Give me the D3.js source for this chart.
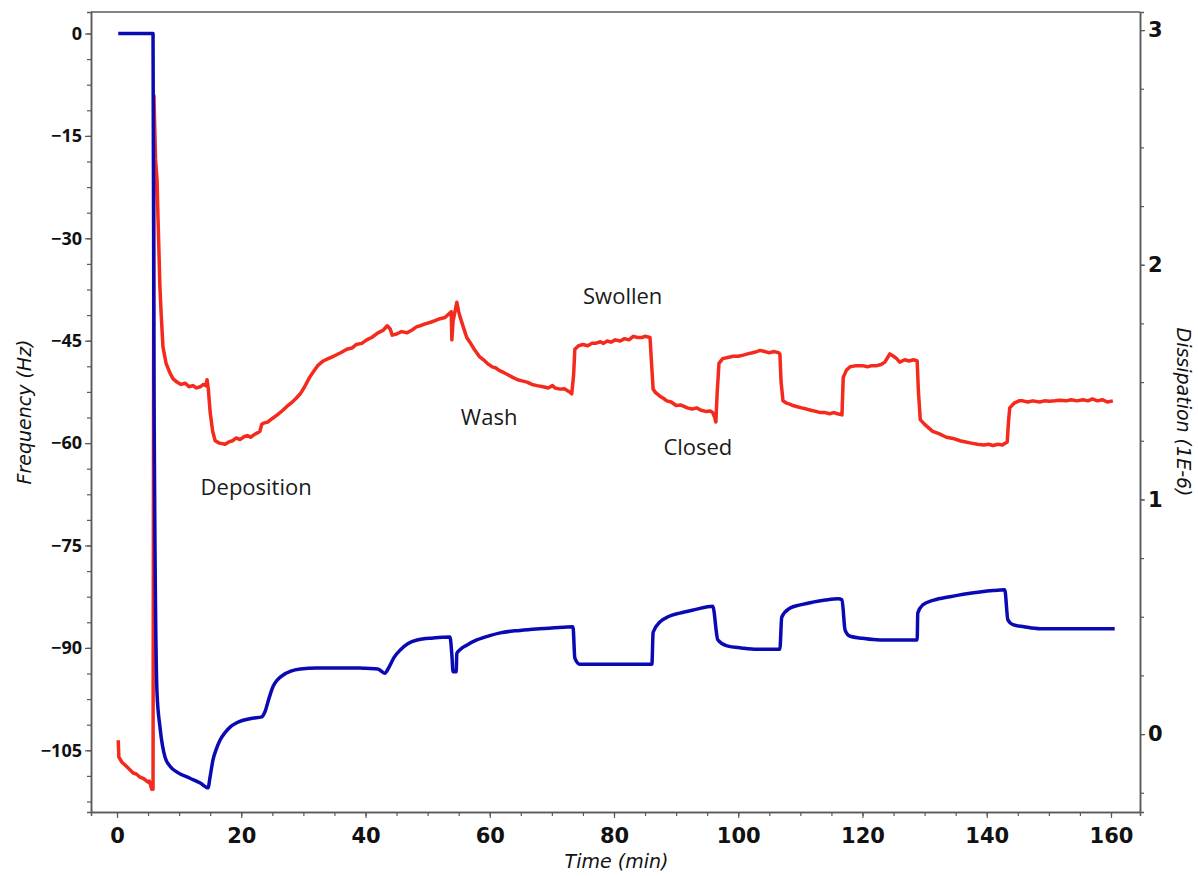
<!DOCTYPE html>
<html>
<head>
<meta charset="utf-8">
<script src="https://cdn.jsdelivr.net/npm/d3@7"></script>
<style>
  body { margin: 0; background: #fff; }
  svg { display: block; }
</style>
</head>
<body>
<svg id="chart" width="1198" height="876"></svg>
<script>
// Frequency trace (blue, left axis): time in min, frequency in Hz
const freqTime = [0.2, 5.6, 5.8, 5.95, 6.44, 6.92, 7.73, 8.6, 9.66, 11.75, 13.4, 14.65, 15.0, 15.45, 16.0, 16.6, 17.4, 18.2, 19.2, 20.3, 21.8, 23.3, 23.8, 24.4, 25.1, 25.9, 26.7, 28.0, 29.5, 32.2, 39.1, 40.0, 42.0, 43.1, 43.8, 44.6, 45.6, 46.8, 48.3, 50.9, 53.6, 53.9, 54.1, 54.6, 54.7, 55.3, 56.3, 58.0, 60.0, 61.7, 64.0, 66.5, 70.0, 73.4, 73.7, 74.5, 86.1, 86.3, 87.4, 88.8, 90.6, 93.0, 95.9, 96.7, 98.2, 100.5, 103.0, 106.7, 107.0, 108.3, 110.0, 112.0, 114.0, 116.1, 116.7, 117.2, 118.0, 120.0, 122.8, 128.8, 128.9, 129.7, 131.5, 134.1, 136.5, 138.9, 141.0, 142.9, 143.4, 144.2, 146.0, 148.6, 160.6];
const freqHz = [0, 0, 0, -50, -96.6, -101.6, -106.0, -107.4, -108.2, -109.1, -109.8, -110.5, -108.8, -106.4, -104.8, -103.5, -102.4, -101.6, -101.0, -100.6, -100.3, -100.1, -99.4, -97.6, -95.7, -94.6, -94.0, -93.4, -93.1, -92.95, -92.95, -93.0, -93.1, -93.7, -92.8, -91.4, -90.3, -89.4, -88.85, -88.55, -88.4, -91.0, -93.5, -93.5, -90.8, -90.2, -89.6, -88.8, -88.2, -87.8, -87.5, -87.3, -87.1, -86.9, -91.5, -92.4, -92.4, -87.7, -86.2, -85.4, -84.9, -84.4, -83.9, -88.8, -89.7, -90.0, -90.2, -90.2, -85.5, -84.2, -83.7, -83.3, -83.0, -82.8, -82.96, -87.4, -88.3, -88.6, -88.85, -88.85, -84.9, -83.7, -83.0, -82.5, -82.1, -81.8, -81.6, -81.5, -85.9, -86.6, -86.9, -87.2, -87.2];

// Dissipation trace (red, right axis): time in min, dissipation in 1E-6
const dissTime = [0.2, 0.3, 0.8, 1.3, 2.0, 2.6, 3.1, 3.7, 4.3, 5.0, 5.2, 5.6, 5.8, 5.95, 6.2, 6.45, 6.6, 6.76, 6.9, 7.1, 7.4, 7.9, 8.5, 9.0, 9.65, 10.3, 11.0, 11.6, 12.2, 12.8, 13.4, 13.9, 14.3, 14.5, 14.7, 15.0, 15.4, 15.8, 16.5, 17.4, 18.0, 18.6, 19.2, 19.8, 20.5, 21.0, 21.5, 22.2, 23.0, 23.3, 23.6, 24.3, 25.0, 25.8, 26.7, 27.3, 28.0, 28.8, 29.5, 30.2, 31.0, 31.5, 32.3, 33.2, 34.0, 35.0, 36.0, 37.0, 37.8, 38.5, 39.4, 40.2, 41.0, 42.0, 42.8, 43.5, 44.0, 44.3, 45.0, 45.8, 46.7, 47.5, 48.2, 48.8, 49.6, 50.5, 51.2, 52.0, 52.8, 53.4, 53.8, 53.9, 54.1, 54.4, 54.7, 55.0, 55.2, 55.8, 56.3, 56.8, 57.5, 58.3, 59.0, 59.6, 60.4, 61.0, 61.5, 62.3, 63.0, 63.7, 64.5, 65.2, 66.0, 66.8, 67.6, 68.6, 69.4, 70.1, 70.5, 71.3, 72.0, 72.4, 73.0, 73.2, 73.5, 73.7, 74.3, 75.0, 75.8, 76.4, 77.0, 77.8, 78.3, 78.9, 79.5, 80.2, 81.0, 81.7, 82.4, 83.1, 83.8, 84.5, 85.0, 85.8, 86.0, 86.3, 86.7, 87.4, 88.0, 88.5, 89.2, 90.0, 90.8, 91.8, 92.6, 93.3, 94.0, 94.8, 95.5, 95.9, 96.2, 96.4, 96.6, 96.9, 97.5, 98.3, 99.2, 100.0, 100.8, 101.5, 102.3, 103.0, 103.5, 104.3, 105.0, 105.8, 106.5, 106.7, 106.9, 107.2, 107.8, 108.4, 108.8, 109.5, 110.2, 111.0, 111.7, 112.5, 113.2, 114.0, 114.7, 115.4, 116.0, 116.7, 116.9, 117.4, 118.0, 119.0, 120.0, 120.8, 121.5, 122.3, 123.0, 123.6, 124.4, 125.0, 125.5, 126.0, 126.8, 127.5, 128.2, 128.8, 129.0, 129.3, 130.0, 131.3, 132.3, 133.5, 134.6, 135.7, 136.6, 137.5, 138.5, 139.5, 140.3, 141.0, 141.8, 142.5, 143.3, 143.5, 143.7, 144.4, 145.2, 145.8, 146.6, 147.4, 148.5, 149.3, 150.1, 151.0, 151.8, 152.8, 153.6, 154.5, 155.5, 156.3, 157.0, 157.8, 158.6, 159.4, 160.3];
const dissVal = [-0.026, -0.098, -0.12, -0.132, -0.15, -0.166, -0.17, -0.183, -0.19, -0.205, -0.2, -0.235, -0.235, 2.72, 2.45, 2.36, 2.2, 2.05, 1.91, 1.795, 1.65, 1.58, 1.54, 1.515, 1.50, 1.49, 1.495, 1.48, 1.485, 1.475, 1.48, 1.49, 1.485, 1.51, 1.47, 1.37, 1.29, 1.25, 1.24, 1.235, 1.245, 1.25, 1.262, 1.255, 1.268, 1.272, 1.265, 1.278, 1.29, 1.32, 1.325, 1.33, 1.345, 1.36, 1.38, 1.395, 1.41, 1.43, 1.45, 1.48, 1.52, 1.54, 1.57, 1.59, 1.60, 1.612, 1.625, 1.64, 1.645, 1.66, 1.665, 1.68, 1.69, 1.71, 1.72, 1.74, 1.725, 1.70, 1.705, 1.715, 1.71, 1.722, 1.735, 1.74, 1.748, 1.755, 1.762, 1.77, 1.775, 1.79, 1.80, 1.68, 1.76, 1.80, 1.84, 1.80, 1.78, 1.73, 1.69, 1.67, 1.64, 1.61, 1.595, 1.58, 1.565, 1.56, 1.55, 1.54, 1.53, 1.52, 1.51, 1.505, 1.50, 1.49, 1.485, 1.48, 1.475, 1.485, 1.475, 1.47, 1.472, 1.465, 1.455, 1.45, 1.53, 1.64, 1.655, 1.66, 1.655, 1.665, 1.665, 1.672, 1.665, 1.675, 1.67, 1.68, 1.675, 1.685, 1.68, 1.695, 1.69, 1.69, 1.695, 1.69, 1.60, 1.47, 1.455, 1.44, 1.43, 1.42, 1.415, 1.40, 1.402, 1.39, 1.385, 1.39, 1.38, 1.375, 1.377, 1.37, 1.35, 1.33, 1.45, 1.58, 1.60, 1.605, 1.61, 1.61, 1.615, 1.62, 1.625, 1.63, 1.635, 1.63, 1.625, 1.63, 1.625, 1.62, 1.50, 1.42, 1.41, 1.405, 1.40, 1.395, 1.39, 1.385, 1.38, 1.375, 1.37, 1.37, 1.365, 1.37, 1.365, 1.36, 1.52, 1.55, 1.565, 1.57, 1.57, 1.565, 1.57, 1.57, 1.575, 1.585, 1.62, 1.61, 1.60, 1.585, 1.595, 1.59, 1.595, 1.59, 1.46, 1.34, 1.32, 1.29, 1.28, 1.265, 1.26, 1.25, 1.245, 1.24, 1.235, 1.232, 1.235, 1.23, 1.235, 1.232, 1.245, 1.33, 1.39, 1.41, 1.42, 1.42, 1.415, 1.42, 1.415, 1.42, 1.418, 1.42, 1.423, 1.42, 1.425, 1.42, 1.425, 1.42, 1.428, 1.42, 1.425, 1.415, 1.42];

const xTicks = [0, 20, 40, 60, 80, 100, 120, 140, 160];
const freqTicks = [0, -15, -30, -45, -60, -75, -90, -105];
const dissTicks = [0, 1, 2, 3];

const annotations = [
  { text: "Deposition", t: 22.4, hz: -67.6 },
  { text: "Wash", t: 59.9, hz: -57.3 },
  { text: "Swollen", t: 81.4, hz: -39.6 },
  { text: "Closed", t: 93.5, hz: -61.7 }
];

const plot = { left: 91, right: 1140, top: 12, bottom: 812 };
const svg = d3.select("#chart");

const x = d3.scaleLinear().domain([-4.185, 164.67]).range([plot.left, plot.right]);
const yFreq = d3.scaleLinear().domain([-114.04, 3.15]).range([plot.bottom, plot.top]);
const yDiss = d3.scaleLinear().domain([-0.332, 3.077]).range([plot.bottom, plot.top]);

const axisColor = "#5a5a5a";

// minor ticks
svg.append("g")
  .attr("transform", `translate(0,${plot.bottom})`)
  .call(d3.axisBottom(x).tickValues(d3.range(0, 165, 5)).tickSize(4).tickFormat(""));
svg.append("g")
  .attr("transform", `translate(${plot.left},0)`)
  .call(d3.axisLeft(yFreq).tickValues(d3.range(0, -114, -3.75)).tickSize(4).tickFormat(""));
svg.append("g")
  .attr("transform", `translate(${plot.right},0)`)
  .call(d3.axisRight(yDiss).tickValues(d3.range(-0.25, 3.01, 0.25)).tickSize(4).tickFormat(""));

// major axes
const xAxis = svg.append("g")
  .attr("transform", `translate(0,${plot.bottom})`)
  .call(d3.axisBottom(x).tickValues(xTicks).tickSize(6).tickPadding(10).tickSizeOuter(0));
xAxis.selectAll("text")
  .style("font-family", "'DejaVu Sans', sans-serif")
  .style("font-weight", "bold")
  .style("font-size", "21px");

const yAxisL = svg.append("g")
  .attr("transform", `translate(${plot.left},0)`)
  .call(d3.axisLeft(yFreq).tickValues(freqTicks).tickSize(6).tickPadding(3).tickSizeOuter(0));
yAxisL.selectAll("text")
  .style("font-family", "'Open Sans', sans-serif")
  .style("font-weight", "bold")
  .style("font-size", "18px");

const yAxisR = svg.append("g")
  .attr("transform", `translate(${plot.right},0)`)
  .call(d3.axisRight(yDiss).tickValues(dissTicks).tickFormat(d3.format("d"))
    .tickSize(5).tickPadding(3).tickSizeOuter(0));
yAxisR.selectAll("text")
  .style("font-family", "'DejaVu Sans', sans-serif")
  .style("font-weight", "bold")
  .style("font-size", "21px");

svg.selectAll(".domain").attr("stroke", axisColor).attr("stroke-width", 1.5);
svg.selectAll(".tick line").attr("stroke", axisColor).attr("stroke-width", 1.2);
svg.selectAll(".tick text").attr("fill", "#111");

// top frame line
svg.append("line")
  .attr("x1", plot.left).attr("x2", plot.right)
  .attr("y1", plot.top).attr("y2", plot.top)
  .attr("stroke", axisColor).attr("stroke-width", 1.5);

// data lines
const freqLine = d3.line()
  .x((d, i) => x(freqTime[i]))
  .y(d => yFreq(d))
  .curve(d3.curveMonotoneX);
const dissLine = d3.line()
  .x((d, i) => x(dissTime[i]))
  .y(d => yDiss(d));

svg.append("path")
  .datum(dissVal)
  .attr("d", dissLine)
  .attr("fill", "none")
  .attr("stroke", "#f42a1c")
  .attr("stroke-width", 3.5)
  .attr("stroke-linejoin", "round");

svg.append("path")
  .datum(freqHz)
  .attr("d", freqLine)
  .attr("fill", "none")
  .attr("stroke", "#0a0ab4")
  .attr("stroke-width", 3.5)
  .attr("stroke-linejoin", "round");

// annotations
svg.selectAll(".note")
  .data(annotations)
  .join("text")
  .attr("class", "note")
  .attr("x", d => x(d.t))
  .attr("y", d => yFreq(d.hz))
  .attr("text-anchor", "middle")
  .style("font-family", "'Open Sans', sans-serif")
  .style("font-size", "22px")
  .attr("fill", "#1a1a1a")
  .text(d => d.text);

// axis titles
const titleStyle = sel => sel
  .style("font-family", "'DejaVu Sans', sans-serif")
  .style("font-style", "italic")
  .style("font-size", "19px")
  .attr("fill", "#111")
  .attr("text-anchor", "middle");

svg.append("text")
  .attr("x", (plot.left + plot.right) / 2 + 1)
  .attr("y", 868)
  .call(titleStyle)
  .text("Time (min)");

svg.append("text")
  .attr("transform", "translate(31,412) rotate(-90)")
  .call(titleStyle)
  .text("Frequency (Hz)");

svg.append("text")
  .attr("transform", "translate(1177,412) rotate(90)")
  .call(titleStyle)
  .text("Dissipation (1E-6)");
</script>
</body>
</html>
